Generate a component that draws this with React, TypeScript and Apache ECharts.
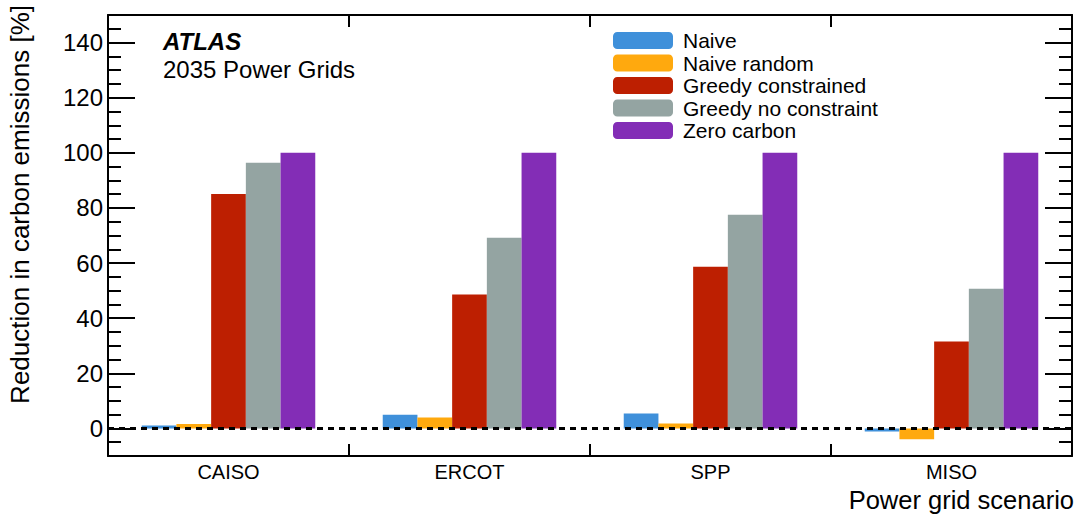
import React, { useEffect, useRef } from "react";
import * as echarts from "echarts";

const categories = ["CAISO", "ERCOT", "SPP", "MISO"];
const seriesNames = ["Naive", "Naive random", "Greedy constrained", "Greedy no constraint", "Zero carbon"];
const naive = [1.1, 5.0, 5.4, -1.1];
const naiveRandom = [1.6, 4.0, 1.8, -3.9];
const greedyConstrained = [85.1, 48.6, 58.7, 31.5];
const greedyNoConstraint = [96.4, 69.2, 77.5, 50.7];
const zeroCarbon = [100, 100, 100, 100];
const seriesValues = [naive, naiveRandom, greedyConstrained, greedyNoConstraint, zeroCarbon];
const colors = ["#3f90da", "#ffa90e", "#bd1f01", "#94a4a2", "#832db6"];
const majorTicks = [0, 20, 40, 60, 80, 100, 120, 140];
const minorTicks = [-5, 5, 10, 15, 25, 30, 35, 45, 50, 55, 65, 70, 75, 85, 90, 95, 105, 110, 115, 125, 130, 135, 145];
const yMin = -10;
const yMax = 150;

const FONT = "'Liberation Sans', Arial, Helvetica, sans-serif";

export default function App() {
  const ref = useRef<HTMLDivElement>(null);
  useEffect(() => {
    document.body.style.margin = "0";
    const chart = echarts.init(ref.current!, null, { renderer: "svg" });
    const yAxisBase = (position: "left" | "right", ticks: number[], len: number, labels: boolean, line: boolean) => ({
      type: "value",
      position,
      min: yMin,
      max: yMax,
      axisLine: { show: line, onZero: false, lineStyle: { color: "#000", width: 2 } },
      axisTick: {
        show: true,
        inside: true,
        length: len,
        customValues: ticks,
        lineStyle: { color: "#000", width: 2 },
      },
      axisLabel: labels
        ? { show: true, customValues: majorTicks, margin: 5, fontSize: 24, color: "#000", fontFamily: FONT }
        : { show: false },
      splitLine: { show: false },
    });
    const xAxisBase = (position: "top" | "bottom", labels: boolean) => ({
      type: "category",
      position,
      data: categories,
      boundaryGap: true,
      axisLine: { show: true, onZero: false, lineStyle: { color: "#000", width: 2 } },
      axisTick: { show: true, inside: true, length: 12, alignWithLabel: false, lineStyle: { color: "#000", width: 2 } },
      axisLabel: labels
        ? { show: true, margin: 6, fontSize: 20, color: "#000", fontFamily: FONT }
        : { show: false },
      splitLine: { show: false },
    });
    chart.setOption({
      animation: false,
      backgroundColor: "#fff",
      textStyle: { fontFamily: FONT },
      grid: { left: 108, right: 12, top: 15, bottom: 62, containLabel: false },
      legend: {
        orient: "vertical",
        left: 608,
        top: 25,
        itemWidth: 60,
        itemHeight: 17,
        itemGap: 1.5,
        icon: "roundRect",
        data: seriesNames,
        textStyle: { fontSize: 21, lineHeight: 21, color: "#000", fontFamily: FONT, padding: [0, 0, 0, 5] },
      },
      xAxis: [xAxisBase("bottom", true), xAxisBase("top", false)],
      yAxis: [
        yAxisBase("left", majorTicks, 27, true, true),
        yAxisBase("left", minorTicks, 13, false, false),
        yAxisBase("right", majorTicks, 27, false, true),
        yAxisBase("right", minorTicks, 13, false, false),
      ],
      series: seriesNames.map((name, i) => ({
        name,
        type: "bar",
        data: seriesValues[i],
        xAxisIndex: 0,
        yAxisIndex: 0,
        barGap: "0%",
        barCategoryGap: "28%",
        itemStyle: { color: colors[i] },
        ...(i === seriesNames.length - 1
          ? {
              markLine: {
                silent: true,
                symbol: ["none", "none"],
                label: { show: false },
                lineStyle: { color: "#000", type: [6, 5], width: 3 },
                data: [{ yAxis: 0 }],
                z: 10,
              },
            }
          : {}),
      })),
      graphic: [
        {
          type: "text",
          left: 163,
          top: 29,
          style: { text: "ATLAS", font: `italic bold 24px ${FONT}`, fill: "#000" },
        },
        {
          type: "text",
          left: 163,
          top: 57,
          style: { text: "2035 Power Grids", font: `24px ${FONT}`, fill: "#000" },
        },
        {
          type: "text",
          x: 20,
          y: 5,
          rotation: Math.PI / 2,
          style: {
            text: "Reduction in carbon emissions [%]",
            font: `26px ${FONT}`,
            fill: "#000",
            align: "right",
            verticalAlign: "middle",
          },
        },
        {
          type: "text",
          x: 1074,
          y: 500,
          style: {
            text: "Power grid scenario",
            font: `25.5px ${FONT}`,
            fill: "#000",
            align: "right",
            verticalAlign: "middle",
          },
        },
      ],
    });
    return () => chart.dispose();
  }, []);
  return <div ref={ref} style={{ width: 1084, height: 518 }} />;
}
